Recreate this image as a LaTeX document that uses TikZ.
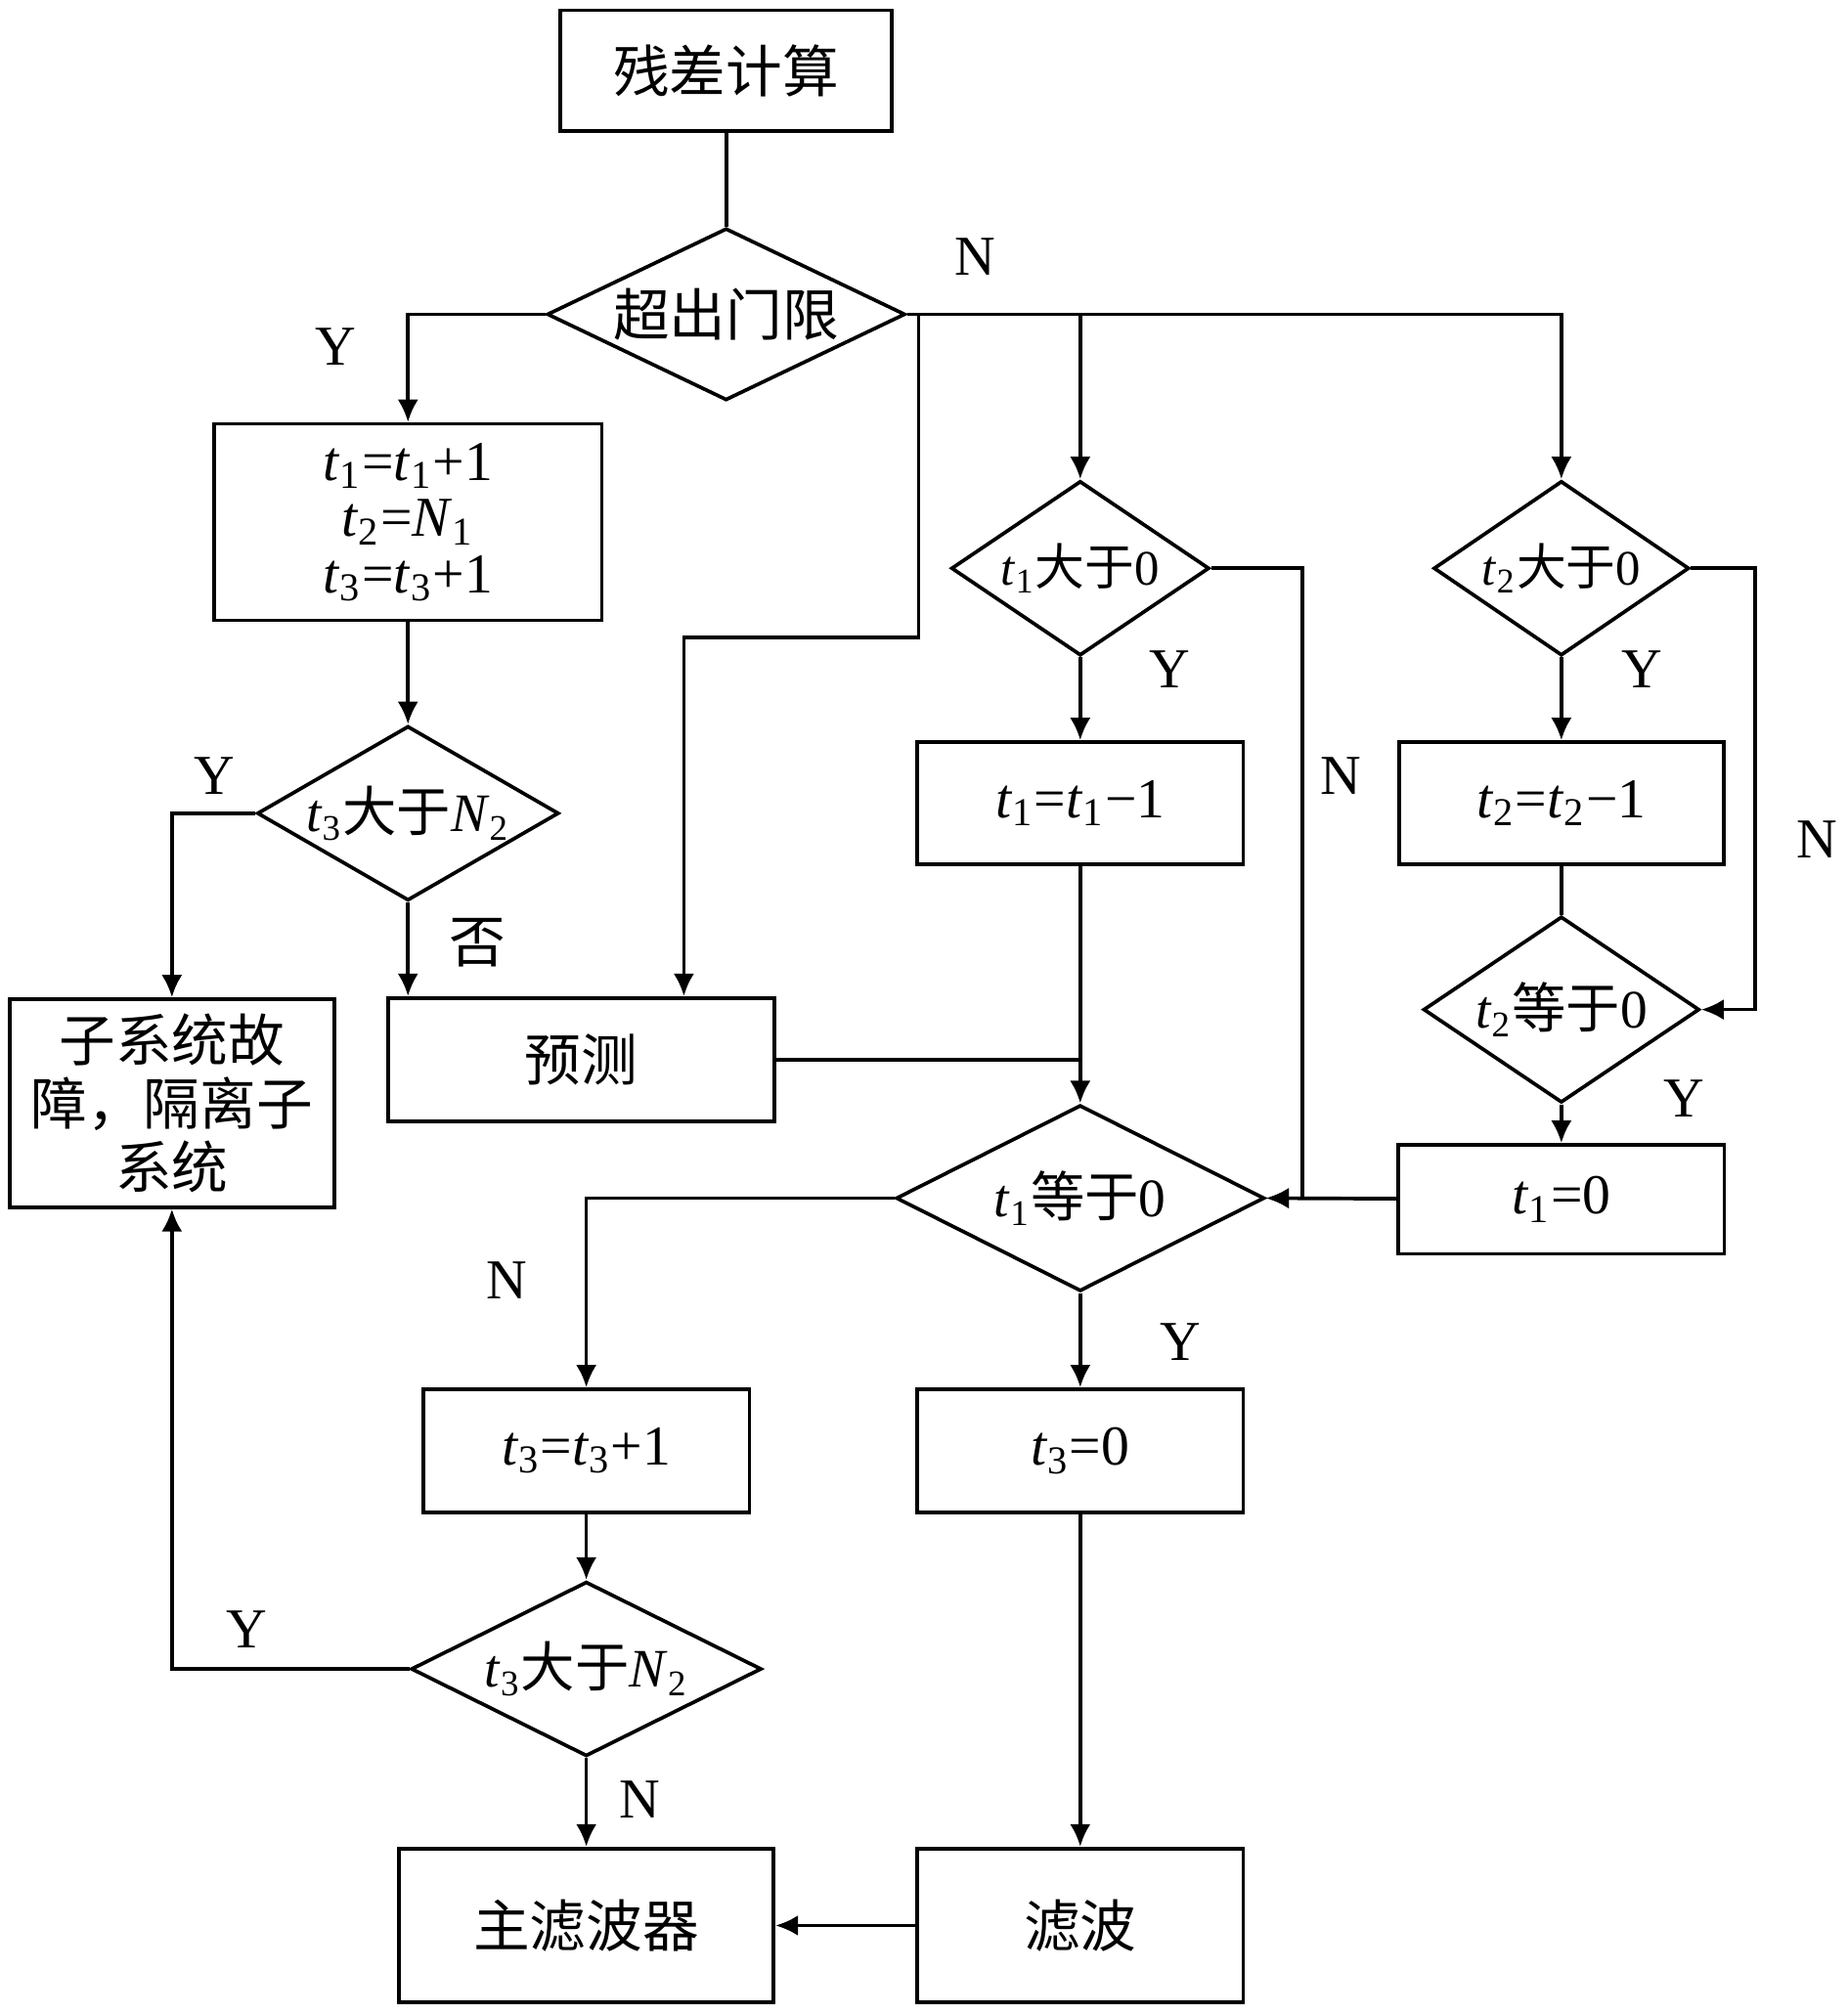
\documentclass[tikz,border=0pt]{standalone}
\usepackage{fontspec}
\setmainfont{Liberation Serif}
\newfontfamily\cjk{Noto Sans CJK SC}
\usetikzlibrary{arrows.meta,shapes.geometric}
\newcommand{\zh}[1]{{\cjk #1}}
\newcommand{\tv}[2]{\textit{#1}\textsubscript{#2}}
\newcommand{\dtext}[1]{\makebox[0pt]{#1}}

\begin{document}
\begin{tikzpicture}[x=0.01cm,y=-0.01cm,>={Latex[length=5pt,width=4.6pt]},line width=0.8pt,
	font=\fontsize{12.5}{15}\selectfont,
	proc/.style 2 args={draw,rectangle,minimum width=#1,minimum height=#2,inner sep=0pt,align=center},
	dec/.style 2 args={draw,diamond,minimum width=#1,minimum height=#2,inner sep=0pt},
	small/.style={font=\fontsize{11}{13}\selectfont},
	mid/.style={font=\fontsize{12}{14}\selectfont}]
	\useasboundingbox (0,0) rectangle (1440,1570);
	% TikZ code for the boxes
	\node[proc={2.58cm}{0.94cm}] (calc) at (566,55) {\zh{残差计算}};
	\node[proc={3.02cm}{1.53cm},font=\fontsize{12.5}{12.5}\selectfont] (inc) at (318,407)
		{\tv{t}{1}=\tv{t}{1}+1\\\tv{t}{2}=\tv{N}{1}\\\tv{t}{3}=\tv{t}{3}+1};
	\node[proc={2.53cm}{1.62cm},font=\fontsize{12.5}{14}\selectfont] (fault) at (134,860)
		{\zh{子系统故}\\\zh{障，隔离子}\\\zh{系统}};
	\node[proc={3.01cm}{0.96cm}] (pred) at (453,826) {\zh{预测}};
	\node[proc={2.54cm}{0.95cm}] (dec1) at (842,626) {\tv{t}{1}=\tv{t}{1}−1};
	\node[proc={2.53cm}{0.95cm}] (dec2) at (1217,626) {\tv{t}{2}=\tv{t}{2}−1};
	\node[proc={2.54cm}{0.85cm}] (zero1) at (1217,935) {\tv{t}{1}=0};
	\node[proc={2.54cm}{0.96cm}] (inc3) at (457,1131) {\tv{t}{3}=\tv{t}{3}+1};
	\node[proc={2.54cm}{0.96cm}] (zero3) at (842,1131) {\tv{t}{3}=0};
	\node[proc={2.54cm}{1.20cm}] (filt) at (842,1501) {\zh{滤波}};
	\node[proc={2.92cm}{1.20cm}] (mainf) at (457,1501) {\zh{主滤波器}};
	% decisions
	\node[dec={2.79cm}{1.34cm}] (over) at (566,245) {\dtext{\zh{超出门限}}};
	\node[dec={2.35cm}{1.36cm},mid] (cmpa) at (318,634) {\dtext{\tv{t}{3}\zh{大于}\tv{N}{2}}};
	\node[dec={2.01cm}{1.36cm},small] (pos1) at (842,443) {\dtext{\tv{t}{1}\zh{大于}0}};
	\node[dec={1.99cm}{1.36cm},small] (pos2) at (1217,443) {\dtext{\tv{t}{2}\zh{大于}0}};
	\node[dec={2.15cm}{1.45cm},mid] (eq2) at (1217,787) {\dtext{\tv{t}{2}\zh{等于}0}};
	\node[dec={2.87cm}{1.45cm},mid] (eq1) at (842,934) {\dtext{\tv{t}{1}\zh{等于}0}};
	\node[dec={2.73cm}{1.36cm},mid] (cmpb) at (457,1301) {\dtext{\tv{t}{3}\zh{大于}\tv{N}{2}}};
	% bends
	\coordinate (j1) at (716,497);
	\coordinate (j2) at (1015,443);
	\coordinate (j3) at (1368,443);
	% connectors
	\draw (calc) -- (over);
	\draw[->] (over.west) -| (inc.north);
	\draw[->] (over.east) -| (pos2.north);
	\draw[->] (over.east -| pos1.north) -- (pos1.north);
	\draw[->] (over.east -| j1) -- (j1) -| ([xshift=0.8cm]pred.north);
	\draw[->] (inc) -- (cmpa);
	\draw[->] (cmpa.west) -| (fault.north);
	\draw[->] (cmpa.south) -- (cmpa.south |- pred.north);
	\draw (pred.east) -- (pred.east -| eq1.north);
	\draw[->] (pos1) -- (dec1);
	\draw[->] (dec1) -- (eq1);
	\draw[->] (pos1.east) -- (j2) |- (eq1.east);
	\draw[->] (pos2) -- (dec2);
	\draw (dec2) -- (eq2);
	\draw[->] (pos2.east) -- (j3) |- (eq2.east);
	\draw[->] (eq2) -- (zero1);
	\draw[->] (zero1) -- (eq1.east);
	\draw[->] (eq1.west) -| (inc3.north);
	\draw[->] (eq1) -- (zero3);
	\draw[->] (inc3) -- (cmpb);
	\draw[->] (cmpb.west) -| (fault.south);
	\draw[->] (cmpb) -- (mainf);
	\draw[->] (zero3) -- (filt);
	\draw[->] (filt) -- (mainf);
	% labels
	\node (y1) at (262,270) {Y};
	\node (n1) at (760,200) {N};
	\node (y2) at (167,605) {Y};
	\node (no1) at (372,735) {\zh{否}};
	\node (y3) at (912,522) {Y};
	\node (n2) at (1045,605) {N};
	\node (y4) at (1280,522) {Y};
	\node (n3) at (1416,654) {N};
	\node (y5) at (1313,856) {Y};
	\node (n4) at (395,998) {N};
	\node (y6) at (920,1046) {Y};
	\node (y7) at (192,1270) {Y};
	\node (n5) at (499,1403) {N};
\end{tikzpicture}
\end{document}
